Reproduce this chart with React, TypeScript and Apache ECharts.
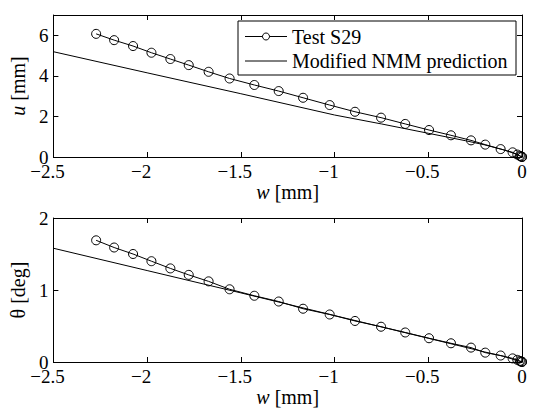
import React, { useEffect, useRef } from 'react';
import * as echarts from 'echarts';

// Top panel: lateral displacement u vs axial displacement w
const wTest = [-2.272, -2.176, -2.075, -1.977, -1.876, -1.778, -1.672, -1.56, -1.428, -1.298, -1.168, -1.026, -0.891, -0.752, -0.623, -0.496, -0.379, -0.272, -0.196, -0.114, -0.05, -0.025, -0.012, -0.006, 0, 0];
const uTest = [6.07, 5.76, 5.47, 5.14, 4.83, 4.53, 4.2, 3.87, 3.55, 3.25, 2.92, 2.56, 2.23, 1.94, 1.63, 1.33, 1.07, 0.82, 0.61, 0.39, 0.23, 0.12, 0.06, 0.03, 0.01, 0];
const wPred = [-2.5, -2.0, -1.5, -1.0, -0.75, -0.5, -0.3, -0.2, -0.1, -0.03, 0];
const uPred = [5.19, 4.15, 3.12, 2.07, 1.63, 1.17, 0.8, 0.6, 0.36, 0.14, 0];

// Bottom panel: rotation theta vs axial displacement w
const thetaTest = [1.69, 1.59, 1.5, 1.4, 1.3, 1.21, 1.12, 1.01, 0.92, 0.84, 0.74, 0.66, 0.57, 0.49, 0.41, 0.33, 0.26, 0.2, 0.13, 0.09, 0.05, 0.03, 0.015, 0.008, 0.003, 0];
const wPredTheta = [-2.5, -2.0, -1.5, -1.0, -0.5, -0.2, -0.1, 0];
const thetaPred = [1.58, 1.27, 0.96, 0.645, 0.33, 0.14, 0.08, 0];

const xTicks = [-2.5, -2, -1.5, -1, -0.5, 0];
const uTicks = [0, 2, 4, 6];
const thetaTicks = [0, 1, 2];
const legendNames = ['Test S29', 'Modified NMM prediction'];

const FONT = "'Liberation Serif', 'Times New Roman', serif";
const fmt = (v: number) => String(v).replace('-', '\u2212');
// negative x labels: the minus hangs to the left of the tick, as in the original
const fmtX = (v: number) => (v < 0 ? `${fmt(v)}{p|}` : fmt(v));

const mkLine = () => ({ show: true, onZero: false, lineStyle: { color: '#000', width: 1 } });
const mkTick = () => ({ show: true, inside: true, length: 5, lineStyle: { color: '#000', width: 1 } });
const mkLabel = () => ({ show: true, color: '#000', fontFamily: FONT, fontSize: 19, margin: 5, formatter: fmt });
const mkName = () => ({
  color: '#000', fontFamily: FONT, fontSize: 20,
  rich: { i: { fontStyle: 'italic', fontFamily: FONT, fontSize: 20, color: '#000' } },
});

export default function App() {
  const ref = useRef<HTMLDivElement>(null);
  useEffect(() => {
    if (!ref.current) return;
    const chart = echarts.init(ref.current, undefined, { renderer: 'svg' });
    const xAxisPair = (gi: number) => [
      {
        type: 'value', gridIndex: gi, position: 'bottom', min: xTicks[0], max: xTicks[xTicks.length - 1], interval: 0.5,
        axisLine: mkLine(), axisTick: mkTick(), splitLine: { show: false },
        axisLabel: { ...mkLabel(), formatter: fmtX, rich: { p: { width: 12, fontSize: 19, fontFamily: FONT } } },
        name: '{i|w} [mm]', nameLocation: 'middle', nameGap: 24, nameTextStyle: mkName(),
      },
      {
        type: 'value', gridIndex: gi, position: 'top', min: xTicks[0], max: xTicks[xTicks.length - 1], interval: 0.5,
        axisLine: mkLine(), axisTick: mkTick(), splitLine: { show: false }, axisLabel: { show: false },
      },
    ];
    const yAxisPair = (gi: number, ticks: number[], max: number, name: string) => [
      {
        type: 'value', gridIndex: gi, position: 'left', min: ticks[0], max, interval: ticks[1] - ticks[0],
        axisLine: mkLine(), axisTick: mkTick(), splitLine: { show: false },
        axisLabel: { ...mkLabel(), showMaxLabel: max === ticks[ticks.length - 1] },
        name, nameLocation: 'middle', nameGap: 18, nameTextStyle: mkName(),
      },
      {
        type: 'value', gridIndex: gi, position: 'right', min: ticks[0], max, interval: ticks[1] - ticks[0],
        axisLine: mkLine(), axisTick: mkTick(), splitLine: { show: false }, axisLabel: { show: false },
      },
    ];
    const testSeries = (name: string, xi: number, data: number[][]) => ({
      type: 'line', name, xAxisIndex: xi, yAxisIndex: xi, data, z: 3,
      symbol: 'circle', symbolSize: 9, clip: false,
      lineStyle: { color: '#000', width: 1 },
      itemStyle: { color: 'rgba(255,255,255,0)', borderColor: '#000', borderWidth: 1 },
      emphasis: { disabled: true },
    });
    const predSeries = (name: string, xi: number, data: number[][]) => ({
      type: 'line', name, xAxisIndex: xi, yAxisIndex: xi, data, z: 2,
      symbol: 'none', showSymbol: false, clip: false,
      lineStyle: { color: '#000', width: 1 }, itemStyle: { color: '#000' },
      emphasis: { disabled: true },
    });
    const lx = 238, ly = 21, lw = 278, lh = 54;
    chart.setOption({
      animation: false,
      backgroundColor: '#fff',
      textStyle: { fontFamily: FONT },
      grid: [
        { left: 53, top: 15, width: 469, height: 142 },
        { left: 53, top: 218, width: 469, height: 144 },
      ],
      xAxis: [...xAxisPair(0), ...xAxisPair(1)],
      yAxis: [
        ...yAxisPair(0, uTicks, 7, '{i|u} [mm]'),
        ...yAxisPair(1, thetaTicks, 2, '\u03b8 [deg]'),
      ],
      graphic: [
        { type: 'rect', z: 100, shape: { x: lx, y: ly, width: lw, height: lh }, style: { fill: '#fff', stroke: '#000', lineWidth: 1 } },
        { type: 'line', z: 101, shape: { x1: lx + 7, y1: ly + 15.5, x2: lx + 49, y2: ly + 15.5 }, style: { stroke: '#000', lineWidth: 1 } },
        { type: 'circle', z: 102, shape: { cx: lx + 28, cy: ly + 15.5, r: 3.5 }, style: { fill: '#fff', stroke: '#000', lineWidth: 1 } },
        { type: 'text', z: 101, x: lx + 54, y: ly + 15.5, style: { text: legendNames[0], fill: '#000', font: `20px ${FONT}`, verticalAlign: 'middle', align: 'left' } },
        { type: 'line', z: 101, shape: { x1: lx + 7, y1: ly + 40, x2: lx + 49, y2: ly + 40 }, style: { stroke: '#000', lineWidth: 1 } },
        { type: 'text', z: 101, x: lx + 54, y: ly + 40, style: { text: legendNames[1], fill: '#000', font: `20px ${FONT}`, verticalAlign: 'middle', align: 'left' } },
      ],
      series: [
        testSeries(legendNames[0], 0, wTest.map((w, i) => [w, uTest[i]])),
        predSeries(legendNames[1], 0, wPred.map((w, i) => [w, uPred[i]])),
        testSeries(legendNames[0], 2, wTest.map((w, i) => [w, thetaTest[i]])),
        predSeries(legendNames[1], 2, wPredTheta.map((w, i) => [w, thetaPred[i]])),
      ],
    });
    return () => chart.dispose();
  }, []);
  return <div ref={ref} style={{ width: 533, height: 412, position: 'absolute', left: 0, top: 0 }} />;
}
